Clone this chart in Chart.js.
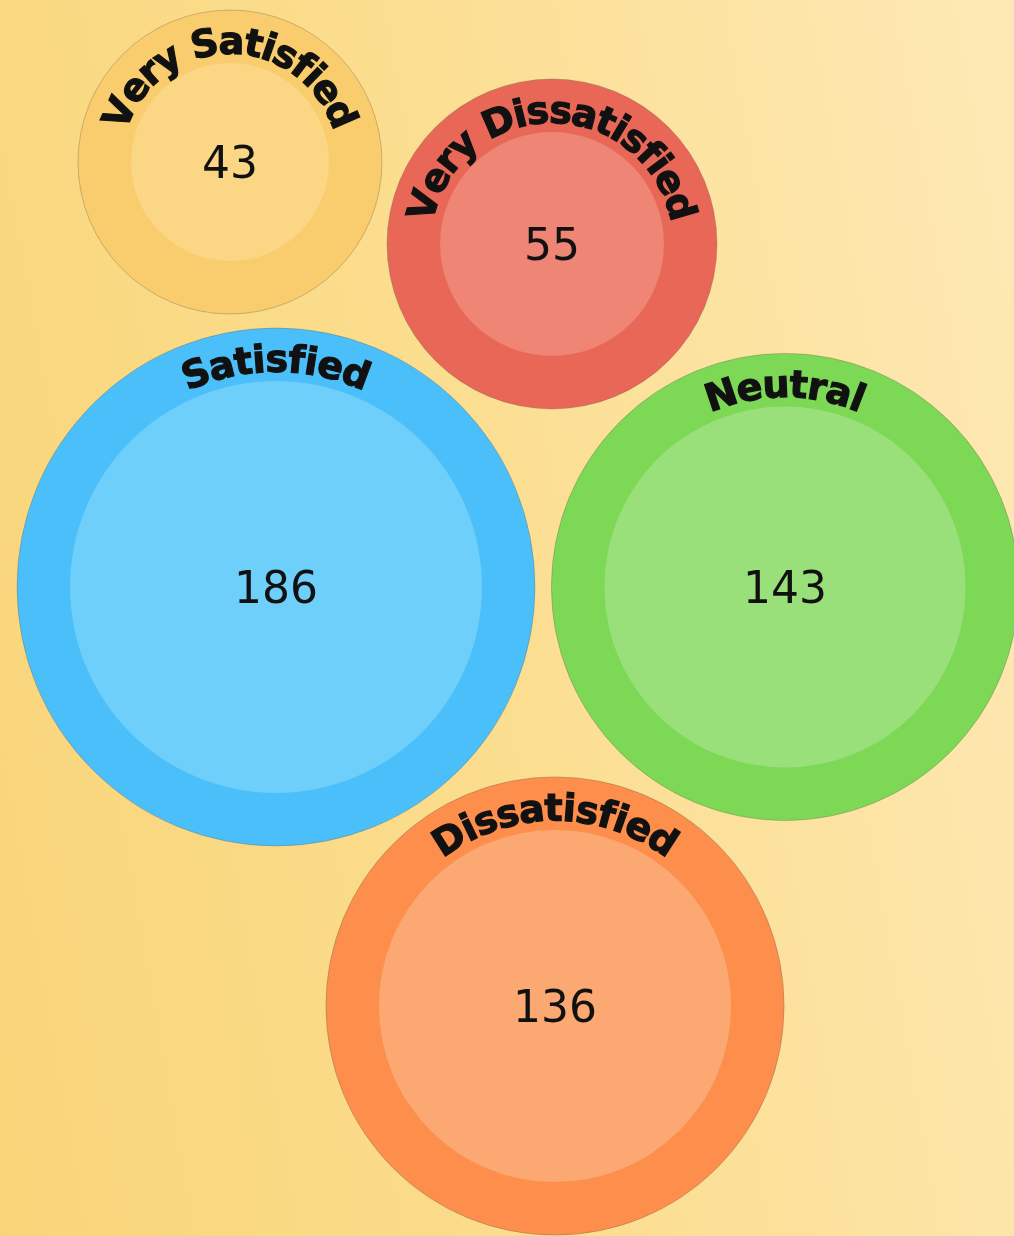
<!DOCTYPE html>
<html>
<head>
    <title>Customer Satisfaction</title>
    <script src="https://cdn.jsdelivr.net/npm/chart.js"></script>
    <style>
        html, body { margin: 0; padding: 0; }
        .chart-container {
            position: relative; width: 1014px; height: 1236px;
            background: linear-gradient(80deg, #f9d579 0%, #fbdd8d 45%, #fee9b6 100%);
        }
    </style>
</head>
<body>
    <div class="chart-container">
        <canvas id="bubbleChart"></canvas>
    </div>

    <script>
        // Survey results
        const categories = ['Very Satisfied', 'Satisfied', 'Neutral', 'Dissatisfied', 'Very Dissatisfied'];
        const counts = [43, 186, 143, 136, 55];

        // Packed layout (centre of each bubble, in layout units)
        const packX = [230, 276, 785, 555, 552];
        const packY = [162, 587, 587, 1006, 244];

        const outerColors = ['#f9cc6d', '#4bbffa', '#7dd856', '#fd8e4c', '#e96756'];
        const innerColors = ['#fbd685', '#6ecffa', '#9ae07a', '#fba872', '#ee8575'];

        const ringWidth = 53;
        // bubble radius grows with the square root of the count, with a floor
        function bubbleSize(v) { return 52.9 + 15.11 * Math.sqrt(v); }

        const outerData = counts.map((v, i) => ({ x: packX[i], y: packY[i], r: bubbleSize(v) }));
        const innerData = counts.map((v, i) => ({ x: packX[i], y: packY[i], r: bubbleSize(v) - ringWidth }));

        // curved category names + centred counts
        const bubbleLabels = {
            id: 'bubbleLabels',
            afterDatasetsDraw(chart) {
                const ctx = chart.ctx;
                const meta = chart.getDatasetMeta(1);
                meta.data.forEach((pt, i) => {
                    const R = pt.options.radius;
                    const rt = R - 34;
                    const text = categories[i];
                    ctx.save();
                    ctx.fillStyle = '#111';
                    ctx.strokeStyle = '#111';
                    ctx.lineWidth = 1.2;
                    ctx.font = 'bold 38px "DejaVu Sans"';
                    ctx.textAlign = 'center';
                    ctx.textBaseline = 'middle';
                    const widths = [...text].map(c => ctx.measureText(c).width);
                    const total = widths.reduce((a, b) => a + b, 0);
                    let off = -total / 2;
                    [...text].forEach((c, k) => {
                        const ang = (off + widths[k] / 2) / rt;
                        ctx.save();
                        ctx.translate(pt.x, pt.y);
                        ctx.rotate(ang);
                        ctx.fillText(c, 0, -rt);
                        ctx.strokeText(c, 0, -rt);
                        ctx.restore();
                        off += widths[k];
                    });
                    ctx.font = '44px "DejaVu Sans"';
                    ctx.fillText(String(counts[i]), pt.x, pt.y + 5);
                    ctx.restore();
                });
            }
        };

        // dataset 0 is painted last, so the lighter centres go first
        const chart = new Chart(document.getElementById('bubbleChart'), {
            type: 'bubble',
            data: {
                datasets: [{
                    label: 'Inner',
                    data: innerData,
                    backgroundColor: innerColors,
                    borderWidth: 0
                }, {
                    label: 'Responses',
                    data: outerData,
                    backgroundColor: outerColors,
                    borderColor: 'rgba(110, 100, 80, 0.35)',
                    borderWidth: 1
                }]
            },
            options: {
                responsive: true,
                maintainAspectRatio: false,
                animation: false,
                clip: false,
                layout: { padding: 0, autoPadding: false },
                scales: {
                    x: { display: false, min: 0, max: 1014 },
                    y: { display: false, min: 0, max: 1236, reverse: true }
                },
                plugins: {
                    legend: { display: false },
                    tooltip: { enabled: false }
                }
            },
            plugins: [bubbleLabels]
        });
    </script>
</body>
</html>
